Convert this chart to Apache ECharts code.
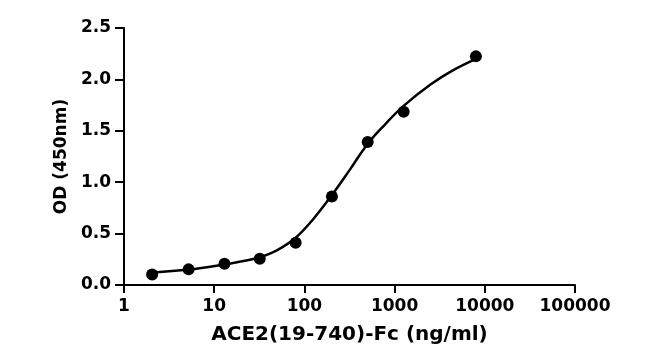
<!DOCTYPE html>
<html>
<head>
<meta charset="utf-8">
<script src="https://cdn.jsdelivr.net/npm/echarts@6/dist/echarts.min.js"></script>
<style>
html,body{margin:0;padding:0;background:#fff;}
#chart{width:670px;height:356px;}
</style>
</head>
<body>
<div id="chart"></div>
<script>
// Measured points
const conc = [2.05, 5.2, 13, 32, 80, 202, 503, 1260, 7970];
const od = [0.103, 0.152, 0.207, 0.256, 0.41, 0.86, 1.39, 1.686, 2.224];
// Fitted curve
const curveX = [2.05, 5.2, 13, 22, 32, 50, 80, 125, 200, 318, 500, 800, 1250, 2500, 4470, 8000];
const curveY = [0.12, 0.15, 0.20, 0.235, 0.27, 0.34, 0.46, 0.64, 0.87, 1.12, 1.37, 1.57, 1.74, 1.95, 2.09, 2.20];
const yTicks = ['0.0', '0.5', '1.0', '1.5', '2.0', '2.5'];
const xTitle = 'ACE2(19-740)-Fc (ng/ml)';
const yTitle = 'OD (450nm)';

const font = 'DejaVu Sans';
const chart = echarts.init(document.getElementById('chart'), null, {renderer: 'canvas'});
chart.setOption({
  animation: false,
  backgroundColor: '#fff',
  grid: {left: 124, right: 95, top: 28, bottom: 71, containLabel: false},
  xAxis: {
    type: 'log', logBase: 10, min: 1, max: 100000, interval: 1,
    name: xTitle, nameLocation: 'middle', nameGap: 40,
    nameTextStyle: {fontFamily: font, fontWeight: 'bold', fontSize: 20, color: '#000'},
    axisLine: {show: true, lineStyle: {color: '#000', width: 2}},
    axisTick: {show: true, length: 8, lineStyle: {color: '#000', width: 2}},
    minorTick: {show: false},
    splitLine: {show: false},
    axisLabel: {margin: 13, fontFamily: font, fontWeight: 'bold', fontSize: 17, color: '#000',
      formatter: v => String(Math.round(v))}
  },
  yAxis: {
    type: 'value', min: 0, max: 2.5, interval: 0.5,
    name: yTitle, nameLocation: 'middle', nameGap: 54, nameRotate: 90,
    nameTextStyle: {fontFamily: font, fontWeight: 'bold', fontSize: 17, color: '#000'},
    axisLine: {show: true, lineStyle: {color: '#000', width: 2}},
    axisTick: {show: true, length: 9, lineStyle: {color: '#000', width: 2}},
    splitLine: {show: false},
    axisLabel: {margin: 13, fontFamily: font, fontWeight: 'bold', fontSize: 17, color: '#000',
      formatter: (v, i) => yTicks[Math.round(v / 0.5)]}
  },
  series: [
    {
      type: 'line', data: curveX.map((x, i) => [x, curveY[i]]),
      smooth: 0.4, showSymbol: false, symbol: 'none',
      lineStyle: {color: '#000', width: 2.5}, z: 2
    },
    {
      type: 'scatter', data: conc.map((x, i) => [x, od[i]]),
      symbol: 'circle', symbolSize: 12,
      itemStyle: {color: '#000', opacity: 1}, z: 3
    }
  ]
});
</script>
</body>
</html>
